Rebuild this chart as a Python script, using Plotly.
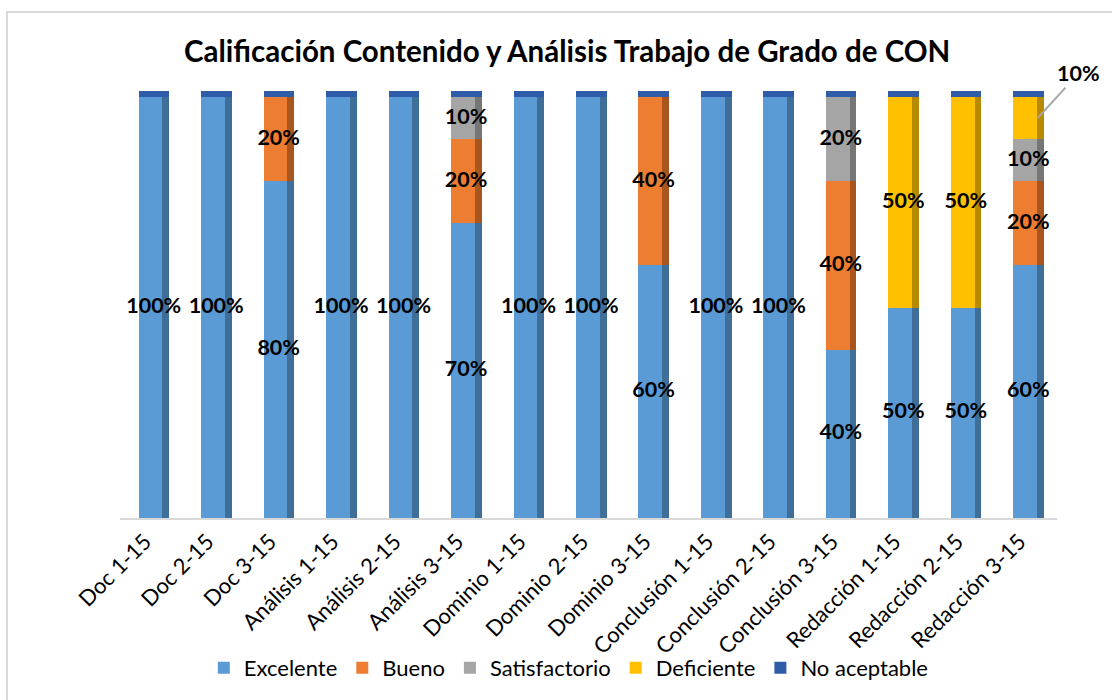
import numpy as np
import plotly.graph_objects as go

categories = ["Doc 1-15", "Doc 2-15", "Doc 3-15", "Análisis 1-15", "Análisis 2-15", "Análisis 3-15",
              "Dominio 1-15", "Dominio 2-15", "Dominio 3-15", "Conclusión 1-15", "Conclusión 2-15",
              "Conclusión 3-15", "Redacción 1-15", "Redacción 2-15", "Redacción 3-15"]
excelente = [100, 100, 80, 100, 100, 70, 100, 100, 60, 100, 100, 40, 50, 50, 60]
bueno = [0, 0, 20, 0, 0, 20, 0, 0, 40, 0, 0, 40, 0, 0, 20]
satisfactorio = [0, 0, 0, 0, 0, 10, 0, 0, 0, 0, 0, 20, 0, 0, 10]
deficiente = [0, 0, 0, 0, 0, 0, 0, 0, 0, 0, 0, 0, 50, 50, 10]
no_aceptable = [0] * 15

series = [
    ("Excelente", excelente, "#5B9BD5", "#3F6E98"),
    ("Bueno", bueno, "#ED7D31", "#A9561E"),
    ("Satisfactorio", satisfactorio, "#A5A5A5", "#767676"),
    ("Deficiente", deficiente, "#FFC000", "#B88A00"),
    ("No aceptable", no_aceptable, "#2F5CA8", "#23457E"),
]

FONT = "Lato"
x = np.arange(len(categories))
FRONT_OFF, FRONT_W = -0.2, 0.38
SIDE_OFF, SIDE_W = 0.18, 0.11
CAP = 1.4

fig = go.Figure()
base = np.zeros(len(categories))
label_x, label_y, label_t = [], [], []
callout = None
for name, vals, col, side in series:
    v = np.array(vals, dtype=float)
    fig.add_trace(go.Bar(x=x, y=v, base=base, name=name, marker=dict(color=col, line=dict(width=0)),
                         offset=FRONT_OFF, width=FRONT_W, legendgroup=name, showlegend=True,
                         hoverinfo="skip"))
    fig.add_trace(go.Bar(x=x, y=v, base=base, marker=dict(color=side, line=dict(width=0)),
                         offset=SIDE_OFF, width=SIDE_W, legendgroup=name, showlegend=False,
                         hoverinfo="skip"))
    for i, val in enumerate(v):
        if val > 0:
            if name == "Deficiente" and val < 15:
                callout = (i, base[i] + val, f"{int(val)}%")
                continue
            label_x.append(i + 0.04)
            label_y.append(base[i] + val / 2)
            label_t.append(f"{int(val)}%")
    base = base + v

# top face of the 3D columns (No aceptable sits at 0 on top)
fig.add_trace(go.Bar(x=x, y=[CAP] * len(x), base=base, marker=dict(color="#2F5CA8", line=dict(width=0)),
                     offset=FRONT_OFF, width=FRONT_W + SIDE_W, showlegend=False, hoverinfo="skip"))

fig.add_trace(go.Scatter(x=label_x, y=label_y, text=label_t, mode="text",
                         textfont=dict(family=FONT, size=21.5, color="black", weight="bold"),
                         showlegend=False, hoverinfo="skip", cliponaxis=False))

if callout:
    i, top, t = callout
    fig.add_annotation(x=i + 0.19, y=top - 5, xref="x", yref="y", text=f"<b>{t}</b>",
                       showarrow=True, arrowhead=0, arrowwidth=2, arrowcolor="#A6A6A6",
                       ax=41, ay=-45, xanchor="center", yanchor="middle",
                       font=dict(family=FONT, size=21.5, color="black"))

fig.update_layout(
    width=1112, height=700,
    barmode="overlay",
    paper_bgcolor="white", plot_bgcolor="white",
    margin=dict(l=120, r=55, t=55, b=182, autoexpand=False),
    title=dict(text="<b>Calificación Contenido y Análisis Trabajo de Grado de CON</b>",
               x=0.51, xanchor="center", y=0.926, yanchor="middle",
               font=dict(family=FONT, size=29.5, color="black")),
    xaxis=dict(tickmode="array", tickvals=x - 0.1, ticktext=categories, range=[-0.5, 14.5],
               tickangle=-45, tickfont=dict(family=FONT, size=22, color="black"),
               showgrid=False, zeroline=False, showline=True, linecolor="#D9D9D9", linewidth=2,
               ticks="", automargin=False),
    yaxis=dict(range=[0, 110], visible=False, showgrid=False, zeroline=False, automargin=False),
    legend=dict(orientation="h", x=0.479, xanchor="center", y=-0.324, yanchor="middle",
                font=dict(family=FONT, size=22, color="black"), traceorder="normal",
                itemwidth=30, bgcolor="rgba(0,0,0,0)"),
    bargap=0,
)
fig.add_shape(type="rect", xref="paper", yref="paper", x0=-0.1206, x1=1.062, y0=-0.404, y1=1.093,
              line=dict(color="#D9D9D9", width=2))
fig.write_html("out.html", config={"displayModeBar": False},
               post_script="document.body.style.margin='0';document.body.style.overflow='hidden';")
